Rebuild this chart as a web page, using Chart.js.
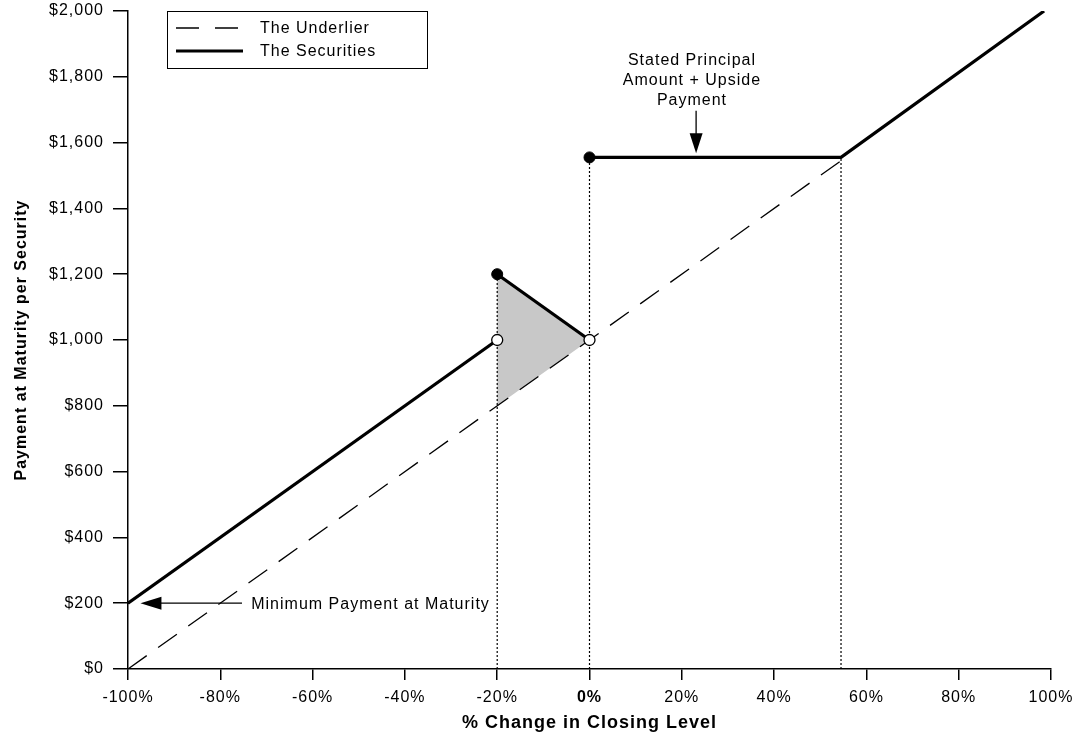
<!DOCTYPE html>
<html>
<head>
<meta charset="utf-8">
<script src="https://cdn.jsdelivr.net/npm/chart.js@4.4.1/dist/chart.umd.min.js"></script>
<style>
html,body{margin:0;padding:0;background:#fff;}
#c{display:block;}
</style>
</head>
<body>
<canvas id="c" width="1076" height="744"></canvas>
<script>
// ---- data ----
const xTickValues = [-100, -80, -60, -40, -20, 0, 20, 40, 60, 80, 100];
const yTickValues = [0, 200, 400, 600, 800, 1000, 1200, 1400, 1600, 1800, 2000];

const underlierX = [-100, 54.5];
const underlierY = [0, 1545];

const secLowX = [-100, -20];
const secLowY = [200, 1000];
const secMidX = [-20, 0];
const secMidY = [1200, 1000];
const secHighX = [0, 54.5, 98.5];
const secHighY = [1555, 1555, 2000];

const filledDotX = [-20, 0];
const filledDotY = [1200, 1555];
const openDotX = [-20, 0];
const openDotY = [1000, 1000];

const shadeX = [-20, -20, 0, -20];
const shadeY = [800, 1200, 1000, 800];

const guideX = [-20, 0, 54.5];
const guideTop = [1200, 1555, 1555];

const legendLabels = ['The Underlier', 'The Securities'];
const minPayText = 'Minimum Payment at Maturity';
const upsideText = ['Stated Principal', 'Amount + Upside', 'Payment'];

// ---- helpers ----
const pts = (xs, ys) => xs.map((x, i) => ({x, y: ys[i]}));
const FONT = 'Liberation Sans, Arial, sans-serif';

const datasets = [];
datasets.push({
  label: 'shade', data: pts(shadeX, shadeY), showLine: true, fill: 'shape',
  backgroundColor: '#c8c8c8', borderWidth: 0, borderColor: 'rgba(0,0,0,0)', pointRadius: 0, order: 10
});
guideX.forEach((gx, i) => {
  datasets.push({
    label: 'guide' + i, data: pts([gx, gx], [0, guideTop[i]]), showLine: true,
    borderColor: '#000', borderWidth: 1.2, borderDash: [2, 2], pointRadius: 0, order: 9
  });
});
datasets.push({
  label: legendLabels[0], data: pts(underlierX, underlierY), showLine: true,
  borderColor: '#000', borderWidth: 1.3, borderDash: [23, 14], pointRadius: 0, order: 8
});
[[secLowX, secLowY], [secMidX, secMidY], [secHighX, secHighY]].forEach(([xs, ys], i) => {
  datasets.push({
    label: legendLabels[1] + i, data: pts(xs, ys), showLine: true,
    borderColor: '#000', borderWidth: 3.2, pointRadius: 0, order: 5, borderCapStyle: 'butt'
  });
});
datasets.push({
  label: 'filled', data: pts(filledDotX, filledDotY), showLine: false,
  pointRadius: 5.5, pointBackgroundColor: '#000', pointBorderColor: '#000', pointBorderWidth: 1, order: 1
});
datasets.push({
  label: 'open', data: pts(openDotX, openDotY), showLine: false,
  pointRadius: 5.5, pointBackgroundColor: '#fff', pointBorderColor: '#000', pointBorderWidth: 1.3, order: 1
});

function arrowHead(ctx, tx, ty, dir, len, half) {
  ctx.beginPath();
  if (dir === 'left') {
    ctx.moveTo(tx, ty); ctx.lineTo(tx + len, ty - half); ctx.lineTo(tx + len, ty + half);
  } else {
    ctx.moveTo(tx, ty); ctx.lineTo(tx - half, ty - len); ctx.lineTo(tx + half, ty - len);
  }
  ctx.closePath(); ctx.fill();
}

const spacing = {
  id: 'spacing',
  beforeUpdate(chart) { chart.ctx.letterSpacing = '1px'; },
  beforeDraw(chart) { chart.ctx.letterSpacing = '1px'; }
};

const extras = {
  id: 'extras',
  afterDatasetsDraw(chart) {
    const {ctx, scales: {x, y}, chartArea: ca} = chart;
    ctx.save();
    ctx.letterSpacing = '1px';
    ctx.fillStyle = '#000'; ctx.strokeStyle = '#000';
    // minimum payment arrow
    const ay = y.getPixelForValue(200);
    ctx.lineWidth = 1.3;
    ctx.beginPath(); ctx.moveTo(x.getPixelForValue(-75.3), ay); ctx.lineTo(x.getPixelForValue(-93), ay); ctx.stroke();
    arrowHead(ctx, x.getPixelForValue(-97.3), ay, 'left', 21, 6.5);
    ctx.font = '16px ' + FONT;
    ctx.textAlign = 'left'; ctx.textBaseline = 'middle';
    ctx.fillText(minPayText, x.getPixelForValue(-73.3), ay + 1);
    // upside arrow
    const ux = x.getPixelForValue(23.1);
    ctx.beginPath(); ctx.moveTo(ux, y.getPixelForValue(1697)); ctx.lineTo(ux, y.getPixelForValue(1600)); ctx.stroke();
    arrowHead(ctx, ux, y.getPixelForValue(1568), 'down', 20, 6.5);
    ctx.textAlign = 'center';
    const tx = x.getPixelForValue(22.2);
    [1849, 1789, 1728].forEach((v, i) => ctx.fillText(upsideText[i], tx, y.getPixelForValue(v)));
    // legend box
    const lx = ca.left + 39, ly = ca.top, lw = 260, lh = 57;
    ctx.fillStyle = '#fff';
    ctx.fillRect(lx, ly, lw, lh);
    ctx.lineWidth = 1; ctx.strokeStyle = '#000';
    ctx.strokeRect(lx + 0.5, ly + 0.5, lw, lh);
    ctx.fillStyle = '#000';
    ctx.lineWidth = 1.3; ctx.setLineDash([23, 16]);
    ctx.beginPath(); ctx.moveTo(lx + 9, ly + 17); ctx.lineTo(lx + 76, ly + 17); ctx.stroke();
    ctx.setLineDash([]); ctx.lineWidth = 3.2;
    ctx.beginPath(); ctx.moveTo(lx + 9, ly + 40); ctx.lineTo(lx + 76, ly + 40); ctx.stroke();
    ctx.textAlign = 'left';
    ctx.fillText(legendLabels[0], lx + 93, ly + 18);
    ctx.fillText(legendLabels[1], lx + 93, ly + 41);
    ctx.restore();
  }
};

new Chart(document.getElementById('c'), {
  type: 'scatter',
  data: {datasets},
  plugins: [spacing, extras],
  options: {
    responsive: false, animation: false, devicePixelRatio: 1,
    layout: {padding: {top: 11, right: 25, left: 0, bottom: 0}},
    plugins: {legend: {display: false}, tooltip: {enabled: false}},
    elements: {line: {tension: 0}},
    scales: {
      x: {
        type: 'linear', min: -100, max: 100,
        afterFit: s => { s.height = 75; s.paddingLeft = 0; s.paddingRight = 0; },
        afterBuildTicks: s => { s.ticks = xTickValues.map(v => ({value: v})); },
        ticks: {
          color: '#000', padding: 8, maxRotation: 0, autoSkip: false,
          font: c => ({family: FONT, size: 16, weight: c.tick && c.tick.value === 0 ? 'bold' : 'normal'}),
          callback: v => v + '%'
        },
        grid: {drawOnChartArea: false, drawTicks: true, tickLength: 11, color: '#000', lineWidth: 1.5},
        border: {display: true, color: '#000', width: 1.5},
        title: {display: true, text: '% Change in Closing Level', color: '#000',
          font: {family: FONT, size: 18, weight: 'bold'}, padding: {top: 0, bottom: 10}}
      },
      y: {
        type: 'linear', min: 0, max: 2000,
        afterFit: s => { s.width = 128; s.paddingTop = 0; s.paddingBottom = 0; },
        afterBuildTicks: s => { s.ticks = yTickValues.map(v => ({value: v})); },
        ticks: {
          color: '#000', padding: 9, autoSkip: false,
          font: {family: FONT, size: 16},
          callback: v => '$' + v.toLocaleString('en-US')
        },
        grid: {drawOnChartArea: false, drawTicks: true, tickLength: 15, color: '#000', lineWidth: 1.5},
        border: {display: true, color: '#000', width: 1.5},
        title: {display: true, text: 'Payment at Maturity per Security', color: '#000',
          font: {family: FONT, size: 16, weight: 'bold'}, padding: {top: 12, bottom: 0}}
      }
    }
  }
});
</script>
</body>
</html>
